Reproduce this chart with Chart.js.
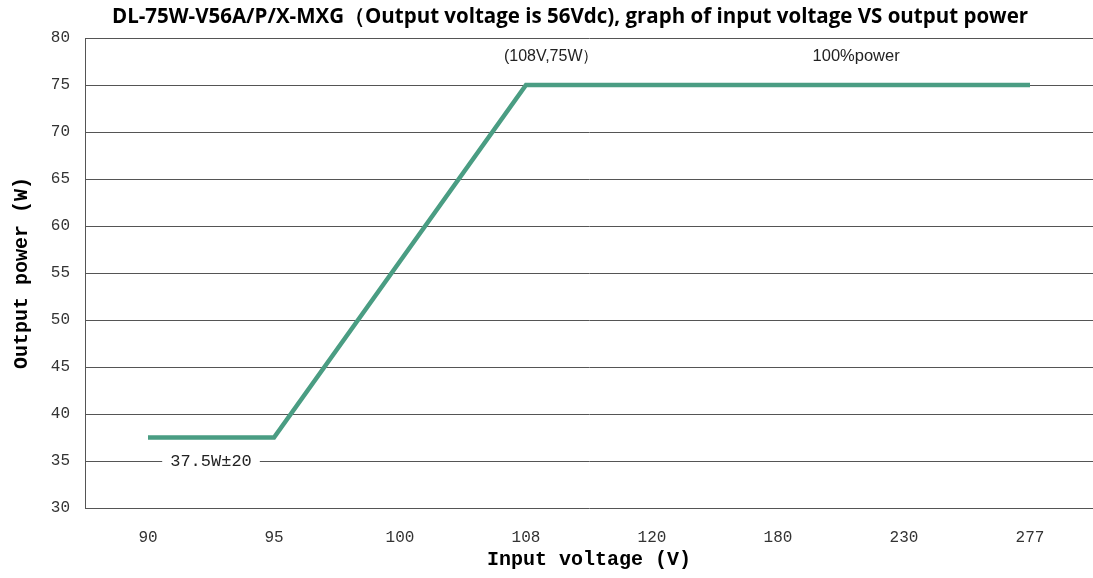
<!DOCTYPE html>
<html>
<head>
<meta charset="utf-8">
<script src="https://cdn.jsdelivr.net/npm/chart.js@4/dist/chart.umd.min.js"></script>
<style>
  body { margin: 0; background: #fff; }
</style>
</head>
<body>
<canvas id="chart-area" width="1093" height="578"></canvas>
<script>
var voltages = ['90', '95', '100', '108', '120', '180', '230', '277'];
var power = [37.5, 37.5, 56.25, 75, 75, 75, 75, 75];

var titleText = 'DL-75W-V56A/P/X-MXG\uff08Output voltage is 56Vdc), graph of input voltage VS output power';

// text notes on the curve
var notes = [
  { text: '37.5W\u00b120', at: 0.5, value: 35, font: '17px "Liberation Mono"', box: true },
  { text: '(108V,75W\uff09', at: 3.2, value: 78, font: '16px "Liberation Sans"' },
  { text: '100%power', at: 5.62, value: 78, font: '16.5px "Liberation Sans"' }
];

var notesPlugin = {
  id: 'notes',
  afterDatasetsDraw: function(chart) {
    var ctx = chart.ctx;
    var xs = chart.scales.x, ys = chart.scales.y;
    ctx.save();
    notes.forEach(function(n) {
      var x = xs.getPixelForValue(n.at);
      var y = ys.getPixelForValue(n.value);
      ctx.font = n.font;
      var w = ctx.measureText(n.text).width;
      if (n.box) {
        ctx.fillStyle = '#fff';
        ctx.fillRect(x - w / 2 - 8, y - 10, w + 16, 20);
      }
      ctx.fillStyle = '#222';
      ctx.textAlign = 'center';
      ctx.textBaseline = 'middle';
      ctx.fillText(n.text, x, y);
    });
    // title
    ctx.font = 'bold 20.5px "Open Sans"';
    ctx.fillStyle = '#000';
    ctx.textAlign = 'center';
    ctx.textBaseline = 'middle';
    ctx.fillText(titleText, 570, 17);
    ctx.restore();
  }
};

var config = {
  type: 'line',
  data: {
    labels: voltages,
    datasets: [{
      data: power,
      borderColor: '#4a9d83',
      borderWidth: 4.5,
      pointRadius: 0,
      tension: 0,
      fill: false
    }]
  },
  options: {
    responsive: false,
    animation: false,
    layout: { padding: { top: 38, right: 0, bottom: 0, left: 0 } },
    plugins: {
      legend: { display: false },
      tooltip: { enabled: false },
      title: { display: false }
    },
    scales: {
      x: {
        offset: true,
        grid: { display: false, drawTicks: false },
        border: { display: false },
        ticks: {
          color: '#333',
          padding: 20,
          font: { family: '"Liberation Mono"', size: 16 }
        },
        title: {
          display: true,
          text: 'Input voltage (V)',
          color: '#000',
          padding: { top: 0, bottom: 6 },
          font: { family: '"Liberation Mono"', size: 20, weight: 'bold' }
        },
        afterFit: function(scale) { scale.height = 70; }
      },
      y: {
        min: 30,
        max: 80,
        grid: { color: '#555', lineWidth: 1, drawTicks: false },
        border: { display: true, color: '#555', width: 1 },
        ticks: {
          stepSize: 5,
          color: '#333',
          padding: 15,
          font: { family: '"Liberation Mono"', size: 16 }
        },
        title: {
          display: true,
          text: 'Output power (W)',
          color: '#000',
          padding: { top: 10, bottom: 0 },
          font: { family: '"Liberation Mono"', size: 20, weight: 'bold' }
        },
        afterFit: function(scale) { scale.width = 85; }
      }
    }
  },
  plugins: [notesPlugin]
};

window.onload = function() {
  var ctx = document.getElementById('chart-area').getContext('2d');
  window.myLine = new Chart(ctx, config);
};
</script>
</body>
</html>
